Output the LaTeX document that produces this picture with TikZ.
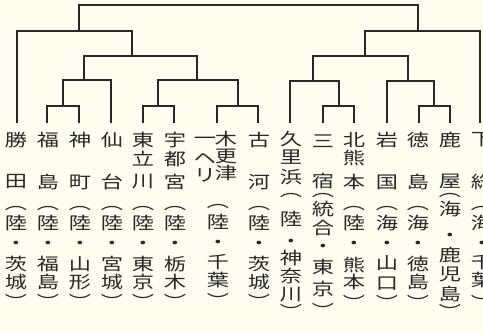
\documentclass[tikz,border=0pt]{standalone}
\usepackage{fontspec}
\usepackage{tikz}
\newfontfamily\cjk[FakeStretch=1.3]{Noto Sans CJK JP}
\definecolor{paper}{RGB}{253,253,240}
\definecolor{ink}{RGB}{40,40,40}
\tikzset{
    % tree lines
    tree/.style={draw=ink,line width=0.8pt},
    %
    % vertical labels
    kanji/.style={inner sep=0pt,outer sep=0pt,text=ink,font=\cjk\fontsize{12.8pt}{14pt}\selectfont}
}
% one column of vertical text: prefix, x, list of y/char
\newcommand\tate[3]{%
    \foreach \y/\c [count=\n] in {#3}{
        \node[kanji] (#1-\n) at (#2,\y) {\c};
    }%
}

\begin{document}
\begin{tikzpicture}[x=0.75pt,y=-0.75pt]
    \fill[paper] (0,0) rectangle (483,332);
    \clip (0,0) rectangle (483,332);
    %
    % leaf ends
    \coordinate (katsuta) at (17,123);
    \coordinate (fukushima) at (47,123);
    \coordinate (jinmachi) at (79,123);
    \coordinate (sendai) at (111,123);
    \coordinate (higashitachikawa) at (143,123);
    \coordinate (utsunomiya) at (174,123);
    \coordinate (kisarazu) at (217,123);
    \coordinate (koga) at (258,123);
    \coordinate (kurihama) at (290,123);
    \coordinate (mishuku) at (323,123);
    \coordinate (kitakumamoto) at (354,123);
    \coordinate (iwakuni) at (387,123);
    \coordinate (tokushima) at (419,123);
    \coordinate (kanoya) at (450,123);
    \coordinate (shimofusa) at (480,123);
    %
    % joins (stem x, bar y)
    \coordinate (g-fj) at (63,106);
    \coordinate (g-fjs) at (84,80);
    \coordinate (g-hu) at (158,106);
    \coordinate (g-kk) at (238,106);
    \coordinate (g-hukk) at (197,80);
    \coordinate (g-left) at (132,56);
    \coordinate (g-riku) at (79,31);
    \coordinate (g-mk) at (339,106);
    \coordinate (g-kmk) at (313,81);
    \coordinate (g-tk) at (434,106);
    \coordinate (g-itk) at (408,81);
    \coordinate (g-right) at (365,56);
    \coordinate (g-umi) at (418,31);
    \coordinate (g-top) at (250,5);
    %
    \draw[tree] (fukushima) |- (g-fj) -| (jinmachi);
    \draw[tree] (g-fj) |- (g-fjs) -| (sendai);
    \draw[tree] (higashitachikawa) |- (g-hu) -| (utsunomiya);
    \draw[tree] (kisarazu) |- (g-kk) -| (koga);
    \draw[tree] (g-hu) |- (g-hukk) -| (g-kk);
    \draw[tree] (g-fjs) |- (g-left) -| (g-hukk);
    \draw[tree] (katsuta) |- (g-riku) -| (g-left);
    \draw[tree] (mishuku) |- (g-mk) -| (kitakumamoto);
    \draw[tree] (kurihama) |- (g-kmk) -| (g-mk);
    \draw[tree] (tokushima) |- (g-tk) -| (kanoya);
    \draw[tree] (iwakuni) |- (g-itk) -| (g-tk);
    \draw[tree] (g-kmk) |- (g-right) -| (g-itk);
    \draw[tree] (g-right) |- (g-umi) -| (shimofusa);
    \draw[tree] (g-riku) |- (g-top) -| (g-umi);
    %
    % labels
    \tate{katsuta-t}{16}{140/勝,182/田,209/︵,223/陸,245/・,264/茨,282/城,301/︶}
    \tate{fukushima-t}{48}{140/福,182/島,209/︵,223/陸,245/・,264/福,282/島,301/︶}
    \tate{jinmachi-t}{80}{140/神,182/町,209/︵,223/陸,245/・,264/山,282/形,301/︶}
    \tate{sendai-t}{112}{140/仙,182/台,209/︵,223/陸,245/・,264/宮,282/城,301/︶}
    \tate{higashitachikawa-t}{143}{140/東,159/立,182/川,209/︵,223/陸,245/・,264/東,282/京,301/︶}
    \tate{utsunomiya-t}{175}{140/宇,159/都,182/宮,209/︵,223/陸,245/・,264/栃,282/木,301/︶}
    \tate{kisarazu-t}{226}{139/木,156/更,173/津}
    \tate{kisarazu-h}{205}{141/一,159/ヘ,175/リ}
    \tate{kisarazu-p}{218}{207/︵,222/陸,244/・,262/千,280/葉,300/︶}
    \tate{koga-t}{259}{140/古,182/河,209/︵,223/陸,245/・,264/茨,282/城,301/︶}
    \tate{kurihama-t}{291}{139/久,157/里,177/浜,196/︵,219/陸,243/・,258/神,276/奈,295/川,311/︶}
    \tate{mishuku-t}{323}{141/三,181/宿,196/︵,209/統,228/合,248/・,267/東,289/京,310/︶}
    \tate{kitakumamoto-t}{354}{140/北,158/熊,182/本,209/︵,223/陸,245/・,265/熊,282/本,302/︶}
    \tate{iwakuni-t}{387}{140/岩,182/国,209/︵,223/海,245/・,263/山,284/口,302/︶}
    \tate{tokushima-t}{418}{140/徳,182/島,209/︵,223/海,245/・,264/徳,282/島,302/︶}
    \tate{kanoya-t}{450}{140/鹿,181/屋,196/︵,209/海,237/・,255/鹿,274/児,294/島,311/︶}
    \tate{shimofusa-t}{482}{140/下,182/総,209/︵,223/海,245/・,262/千,280/葉,302/︶}
\end{tikzpicture}
\end{document}
